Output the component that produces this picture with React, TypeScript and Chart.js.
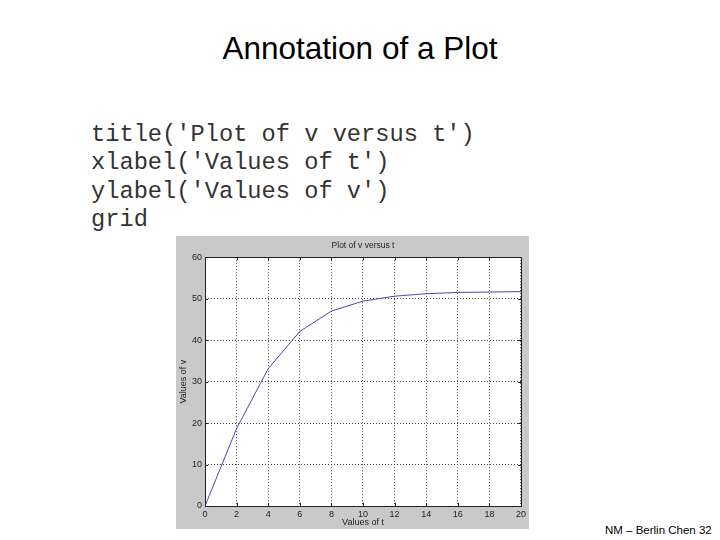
import React, { useEffect, useRef } from "react";
import { Chart, registerables } from "chart.js";

Chart.register(...registerables);

const tValues = [0, 2, 4, 6, 8, 10, 12, 14, 16, 18, 20];
const vValues = [0, 18.7, 33.1, 42.1, 47.0, 49.4, 50.6, 51.2, 51.5, 51.6, 51.7];

const slideTitle = "Annotation of a Plot";
const codeLines = [
  "title('Plot of v versus t')",
  "xlabel('Values of t')",
  "ylabel('Values of v')",
  "grid",
];
const plotTitle = "Plot of v versus t";
const xLabel = "Values of t";
const yLabel = "Values of v";
const footer = "NM – Berlin Chen 32";

const plotDecor = {
  id: "plotDecor",
  beforeDraw(chart: any) {
    const { ctx, chartArea } = chart;
    ctx.save();
    ctx.fillStyle = "#ffffff";
    ctx.fillRect(chartArea.left, chartArea.top, chartArea.right - chartArea.left, chartArea.bottom - chartArea.top);
    ctx.restore();
  },
  afterDraw(chart: any) {
    const { ctx, chartArea } = chart;
    const xs = chart.scales.x;
    const ys = chart.scales.y;
    ctx.save();
    ctx.strokeStyle = "#222222";
    ctx.lineWidth = 1;
    ctx.strokeRect(
      Math.round(chartArea.left) + 0.5,
      Math.round(chartArea.top) + 0.5,
      Math.round(chartArea.right - chartArea.left),
      Math.round(chartArea.bottom - chartArea.top)
    );
    const len = 3;
    ctx.beginPath();
    xs.ticks.forEach((t: any) => {
      const px = Math.round(xs.getPixelForValue(t.value)) + 0.5;
      ctx.moveTo(px, chartArea.bottom);
      ctx.lineTo(px, chartArea.bottom - len);
      ctx.moveTo(px, chartArea.top);
      ctx.lineTo(px, chartArea.top + len);
    });
    ys.ticks.forEach((t: any) => {
      const py = Math.round(ys.getPixelForValue(t.value)) + 0.5;
      ctx.moveTo(chartArea.left, py);
      ctx.lineTo(chartArea.left + len, py);
      ctx.moveTo(chartArea.right, py);
      ctx.lineTo(chartArea.right - len, py);
    });
    ctx.stroke();
    ctx.restore();
  },
};

function PlotChart() {
  const ref = useRef<HTMLCanvasElement | null>(null);
  useEffect(() => {
    if (!ref.current) return;
    const tickFont = { family: "'Liberation Sans', Arial, sans-serif", size: 9 };
    const chart = new Chart(ref.current, {
      type: "line",
      data: {
        datasets: [
          {
            data: tValues.map((t, i) => ({ x: t, y: vValues[i] })),
            borderColor: "#4848b8",
            borderWidth: 1,
            pointRadius: 0,
            tension: 0,
            fill: false,
          },
        ],
      },
      options: {
        responsive: false,
        animation: false,
        devicePixelRatio: 1,
        layout: { padding: 0 },
        plugins: {
          legend: { display: false },
          tooltip: { enabled: false },
          title: {
            display: true,
            text: plotTitle,
            fullSize: false,
            color: "#222222",
            font: { family: "'Liberation Sans', Arial, sans-serif", size: 8.5, weight: "normal" },
            padding: { top: 5, bottom: 6 },
          },
        },
        scales: {
          x: {
            type: "linear",
            min: 0,
            max: 20,
            ticks: { stepSize: 2, color: "#222222", font: tickFont, padding: 3, maxRotation: 0 },
            grid: { color: "#444444", drawTicks: false, lineWidth: 1 },
            border: { display: false, dash: [1, 2] },
            title: {
              display: true,
              text: xLabel,
              color: "#222222",
              font: tickFont,
              padding: { top: 0, bottom: 1 },
            },
            afterFit: (s: any) => {
              s.height = 23;
            },
          },
          y: {
            type: "linear",
            min: 0,
            max: 60,
            ticks: { stepSize: 10, color: "#222222", font: tickFont, padding: 3 },
            grid: { color: "#444444", drawTicks: false, lineWidth: 1 },
            border: { display: false, dash: [1, 2] },
            title: {
              display: true,
              text: yLabel,
              color: "#222222",
              font: tickFont,
              padding: { top: 2, bottom: 0 },
            },
            afterFit: (s: any) => {
              s.width = 29;
            },
          },
        },
      },
      plugins: [plotDecor],
    } as any);
    return () => chart.destroy();
  }, []);
  return (
    <canvas
      ref={ref}
      width={353}
      height={293}
      style={{ position: "absolute", left: 176, top: 236, width: 353, height: 293, background: "#c9c9c9" }}
    />
  );
}

export default function App() {
  return (
    <div style={{ position: "absolute", left: 0, top: 0, width: 720, height: 540, background: "#ffffff", overflow: "hidden" }}>
      <div
        style={{
          position: "absolute",
          left: 0,
          top: 33,
          width: 720,
          textAlign: "center",
          fontFamily: "'Liberation Sans', Arial, sans-serif",
          fontSize: 31.5,
          lineHeight: "31.5px",
          color: "#000000",
        }}
      >
        {slideTitle}
      </div>
      <div
        style={{
          position: "absolute",
          left: 91,
          top: 121,
          fontFamily: "'Liberation Mono', 'Courier New', monospace",
          fontSize: 23.7,
          lineHeight: "28.33px",
          color: "#333333",
          whiteSpace: "pre",
        }}
      >
        {codeLines.map((l, i) => (
          <div key={i}>{l}</div>
        ))}
      </div>
      <PlotChart />
      <div
        style={{
          position: "absolute",
          left: 605,
          top: 523,
          fontFamily: "'Liberation Sans', Arial, sans-serif",
          fontSize: 11.5,
          lineHeight: "14px",
          color: "#000000",
          whiteSpace: "pre",
        }}
      >
        {footer}
      </div>
    </div>
  );
}
